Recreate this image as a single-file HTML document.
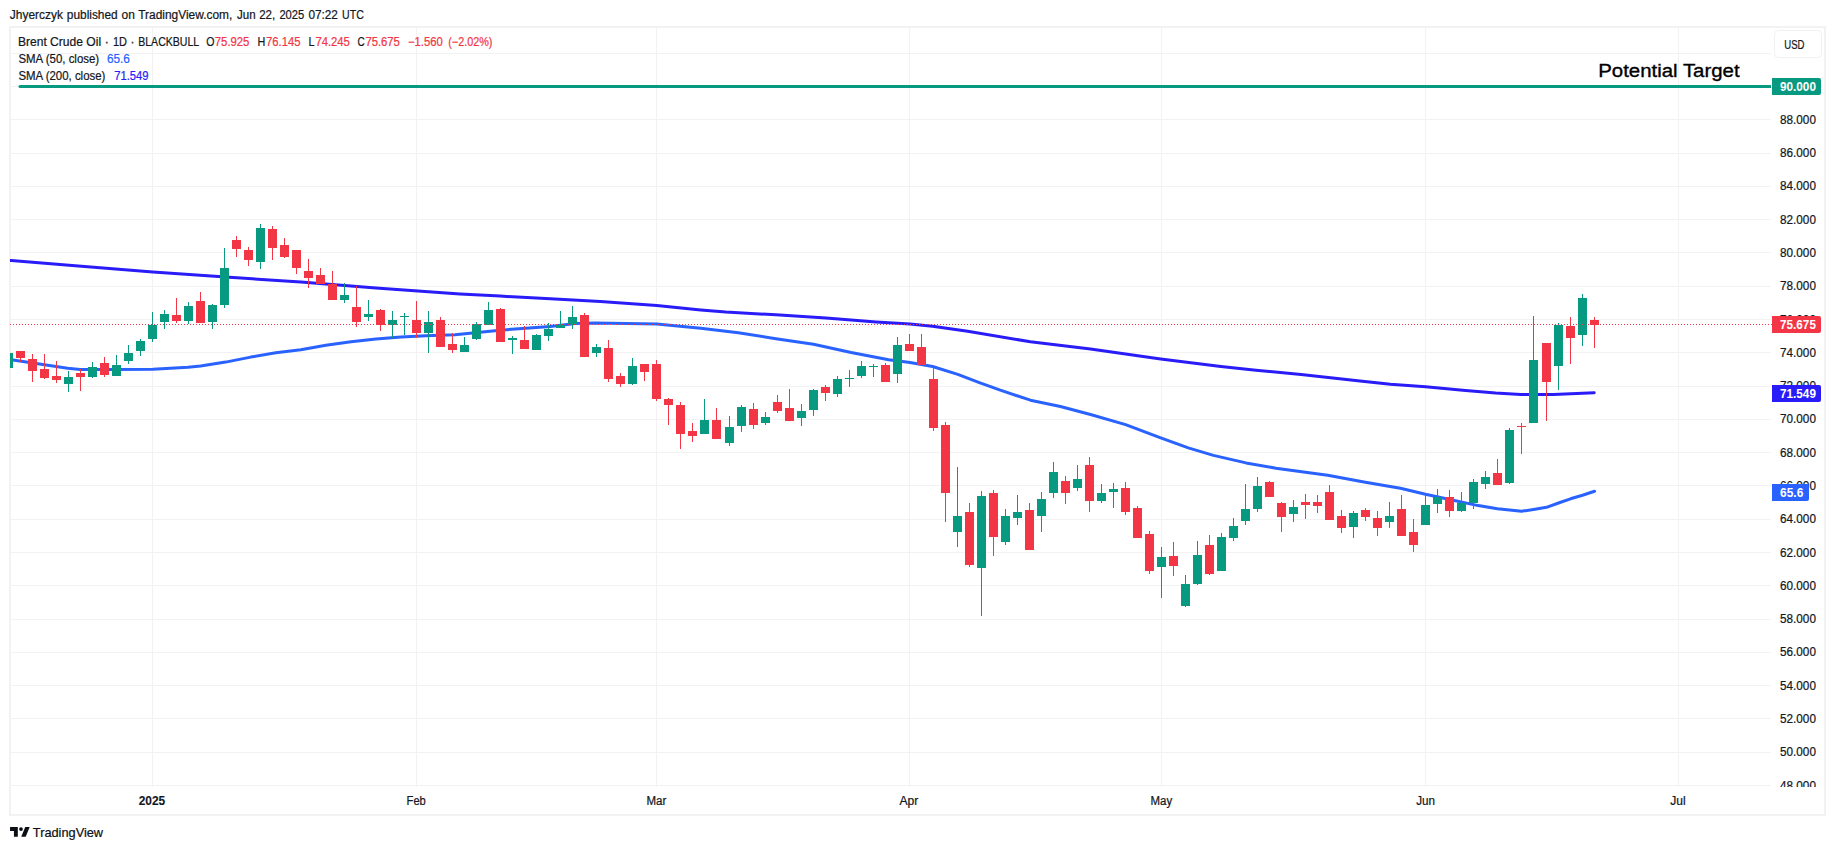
<!DOCTYPE html>
<html lang="en"><head><meta charset="utf-8"><title>Brent Crude Oil 1D BLACKBULL - TradingView</title>
<style>html,body{margin:0;padding:0;background:#fff}body{width:1835px;height:850px;overflow:hidden}svg{display:block}text{font-family:'Liberation Sans', sans-serif;font-size:12px;fill:#131722;stroke:#131722;stroke-width:.22px}.b{font-weight:bold;stroke-width:.1px}.w{fill:#fff;stroke:none;font-weight:bold}.r{fill:#f23645;stroke:#f23645}</style>
</head><body>
<svg width="1835" height="850" viewBox="0 0 1835 850">
<rect width="1835" height="850" fill="#fff"/>
<defs><clipPath id="pane"><rect x="10" y="28" width="1762" height="758"/></clipPath><clipPath id="axis"><rect x="1772" y="28" width="52" height="759"/></clipPath></defs>
<text x="9.8" y="19.0" textLength="53.2" lengthAdjust="spacingAndGlyphs">Jhyerczyk</text>
<text x="66.8" y="19.0" textLength="50.9" lengthAdjust="spacingAndGlyphs">published</text>
<text x="121.5" y="19.0" textLength="13.3" lengthAdjust="spacingAndGlyphs">on</text>
<text x="138.2" y="19.0" textLength="94.1" lengthAdjust="spacingAndGlyphs">TradingView.com,</text>
<text x="237.0" y="19.0" textLength="18.6" lengthAdjust="spacingAndGlyphs">Jun</text>
<text x="259.2" y="19.0" textLength="16.0" lengthAdjust="spacingAndGlyphs">22,</text>
<text x="279.4" y="19.0" textLength="24.8" lengthAdjust="spacingAndGlyphs">2025</text>
<text x="308.4" y="19.0" textLength="29.5" lengthAdjust="spacingAndGlyphs">07:22</text>
<text x="342.1" y="19.0" textLength="21.7" lengthAdjust="spacingAndGlyphs">UTC</text>
<rect x="10" y="27" width="1815" height="788" fill="none" stroke="#f2f2f2" stroke-width="2"/>
<g shape-rendering="crispEdges" fill="#f2f2f3">
<rect x="11" y="785" width="1760" height="1"/>
<rect x="11" y="752" width="1760" height="1"/>
<rect x="11" y="718" width="1760" height="1"/>
<rect x="11" y="685" width="1760" height="1"/>
<rect x="11" y="652" width="1760" height="1"/>
<rect x="11" y="619" width="1760" height="1"/>
<rect x="11" y="585" width="1760" height="1"/>
<rect x="11" y="552" width="1760" height="1"/>
<rect x="11" y="519" width="1760" height="1"/>
<rect x="11" y="485" width="1760" height="1"/>
<rect x="11" y="452" width="1760" height="1"/>
<rect x="11" y="419" width="1760" height="1"/>
<rect x="11" y="386" width="1760" height="1"/>
<rect x="11" y="352" width="1760" height="1"/>
<rect x="11" y="319" width="1760" height="1"/>
<rect x="11" y="286" width="1760" height="1"/>
<rect x="11" y="252" width="1760" height="1"/>
<rect x="11" y="219" width="1760" height="1"/>
<rect x="11" y="186" width="1760" height="1"/>
<rect x="11" y="153" width="1760" height="1"/>
<rect x="11" y="119" width="1760" height="1"/>
<rect x="11" y="86" width="1760" height="1"/>
<rect x="11" y="53" width="1760" height="1"/>
<rect x="152" y="28" width="1" height="759"/>
<rect x="416" y="28" width="1" height="759"/>
<rect x="656" y="28" width="1" height="759"/>
<rect x="909" y="28" width="1" height="759"/>
<rect x="1161" y="28" width="1" height="759"/>
<rect x="1425" y="28" width="1" height="759"/>
<rect x="1678" y="28" width="1" height="759"/>
</g>
<g clip-path="url(#pane)">
<path d="M20 85H1771V88H20A1.5 1.5 0 0 1 20 85Z" fill="#089981"/>
<polyline points="-4.0,259.4 11.3,260.6 75.2,265.8 152.9,272.1 225.6,277.1 300.8,282.1 376.0,288.0 460.0,294.0 500.1,296.1 550.3,298.8 600.4,301.6 656.8,305.6 700.7,310.0 725.8,312.1 775.9,314.8 826.0,318.1 876.2,321.9 910.0,324.1 932.6,326.3 967.7,331.3 1030.4,341.8 1090.5,348.9 1160.7,358.9 1220.9,366.4 1256.0,370.2 1301.1,374.4 1360.0,380.9 1390.4,384.3 1425.5,386.8 1465.6,390.4 1495.7,393.0 1520.8,394.4 1553.4,394.4 1594.2,392.7" fill="none" stroke="#2a1cf8" stroke-width="3" stroke-linejoin="round" stroke-linecap="round"/>
<polyline points="-4.0,357.5 11.3,359.8 67.7,368.3 80.2,369.4 116.0,369.6 152.9,369.2 188.0,367.3 200.6,366.0 225.6,362.1 250.7,357.1 275.8,352.8 300.8,349.8 325.9,345.3 351.0,341.8 376.0,339.0 401.1,337.0 426.2,335.8 455.0,334.8 500.1,330.2 550.3,326.4 575.3,323.5 595.4,323.1 656.8,324.1 700.7,328.2 738.3,332.7 775.9,338.7 813.5,344.3 851.1,352.5 888.7,359.8 910.0,362.6 932.6,366.5 957.8,374.4 980.0,382.9 1000.3,390.2 1030.4,400.2 1060.4,406.5 1090.5,414.5 1125.6,424.6 1160.7,437.9 1188.3,447.9 1213.4,455.4 1246.0,462.9 1276.0,468.2 1285.1,469.5 1327.7,475.3 1365.3,482.2 1400.4,488.3 1425.5,494.3 1453.1,500.2 1478.2,505.6 1497.5,508.8 1509.5,510.1 1521.5,511.3 1533.5,509.4 1546.5,507.3 1558.5,503.0 1570.5,498.8 1582.5,495.2 1594.5,491.3" fill="none" stroke="#2962ff" stroke-width="3" stroke-linejoin="round" stroke-linecap="round"/>
<g shape-rendering="crispEdges">
<rect x="8" y="353" width="1" height="15" fill="#089981"/>
<rect x="4" y="353" width="9" height="15" fill="#089981"/>
<rect x="20" y="351" width="1" height="11" fill="#f23645"/>
<rect x="16" y="351" width="9" height="7" fill="#f23645"/>
<rect x="32" y="354" width="1" height="28" fill="#f23645"/>
<rect x="28" y="359" width="9" height="12" fill="#f23645"/>
<rect x="44" y="354" width="1" height="25" fill="#f23645"/>
<rect x="40" y="369" width="9" height="9" fill="#f23645"/>
<rect x="56" y="361" width="1" height="22" fill="#f23645"/>
<rect x="52" y="376" width="9" height="4" fill="#f23645"/>
<rect x="68" y="371" width="1" height="21" fill="#089981"/>
<rect x="64" y="377" width="9" height="7" fill="#089981"/>
<rect x="80" y="369" width="1" height="22" fill="#f23645"/>
<rect x="76" y="373" width="9" height="4" fill="#f23645"/>
<rect x="92" y="362" width="1" height="16" fill="#089981"/>
<rect x="88" y="367" width="9" height="10" fill="#089981"/>
<rect x="104" y="357" width="1" height="20" fill="#f23645"/>
<rect x="100" y="363" width="9" height="12" fill="#f23645"/>
<rect x="116" y="355" width="1" height="21" fill="#089981"/>
<rect x="112" y="365" width="9" height="11" fill="#089981"/>
<rect x="128" y="345" width="1" height="19" fill="#089981"/>
<rect x="124" y="353" width="9" height="8" fill="#089981"/>
<rect x="140" y="339" width="1" height="17" fill="#089981"/>
<rect x="136" y="341" width="9" height="10" fill="#089981"/>
<rect x="152" y="312" width="1" height="30" fill="#089981"/>
<rect x="148" y="325" width="9" height="14" fill="#089981"/>
<rect x="164" y="310" width="1" height="19" fill="#089981"/>
<rect x="160" y="314" width="9" height="8" fill="#089981"/>
<rect x="176" y="298" width="1" height="25" fill="#f23645"/>
<rect x="172" y="315" width="9" height="6" fill="#f23645"/>
<rect x="188" y="302" width="1" height="22" fill="#089981"/>
<rect x="184" y="306" width="9" height="15" fill="#089981"/>
<rect x="200" y="292" width="1" height="31" fill="#f23645"/>
<rect x="196" y="301" width="9" height="22" fill="#f23645"/>
<rect x="212" y="304" width="1" height="25" fill="#089981"/>
<rect x="208" y="305" width="9" height="17" fill="#089981"/>
<rect x="224" y="248" width="1" height="60" fill="#089981"/>
<rect x="220" y="268" width="9" height="37" fill="#089981"/>
<rect x="236" y="236" width="1" height="21" fill="#f23645"/>
<rect x="232" y="240" width="9" height="9" fill="#f23645"/>
<rect x="248" y="247" width="1" height="19" fill="#f23645"/>
<rect x="244" y="250" width="9" height="10" fill="#f23645"/>
<rect x="260" y="224" width="1" height="45" fill="#089981"/>
<rect x="256" y="228" width="9" height="34" fill="#089981"/>
<rect x="272" y="226" width="1" height="34" fill="#f23645"/>
<rect x="268" y="229" width="9" height="19" fill="#f23645"/>
<rect x="284" y="238" width="1" height="20" fill="#f23645"/>
<rect x="280" y="245" width="9" height="12" fill="#f23645"/>
<rect x="296" y="250" width="1" height="24" fill="#f23645"/>
<rect x="292" y="250" width="9" height="18" fill="#f23645"/>
<rect x="308" y="259" width="1" height="29" fill="#f23645"/>
<rect x="304" y="271" width="9" height="7" fill="#f23645"/>
<rect x="320" y="268" width="1" height="16" fill="#f23645"/>
<rect x="316" y="275" width="9" height="9" fill="#f23645"/>
<rect x="332" y="271" width="1" height="29" fill="#f23645"/>
<rect x="328" y="284" width="9" height="16" fill="#f23645"/>
<rect x="344" y="283" width="1" height="20" fill="#089981"/>
<rect x="340" y="295" width="9" height="5" fill="#089981"/>
<rect x="356" y="286" width="1" height="41" fill="#f23645"/>
<rect x="352" y="307" width="9" height="15" fill="#f23645"/>
<rect x="368" y="300" width="1" height="21" fill="#089981"/>
<rect x="364" y="314" width="9" height="3" fill="#089981"/>
<rect x="380" y="309" width="1" height="22" fill="#f23645"/>
<rect x="376" y="310" width="9" height="15" fill="#f23645"/>
<rect x="392" y="311" width="1" height="27" fill="#089981"/>
<rect x="388" y="320" width="9" height="5" fill="#089981"/>
<rect x="404" y="313" width="1" height="22" fill="#089981"/>
<rect x="400" y="316" width="9" height="1" fill="#089981"/>
<rect x="416" y="301" width="1" height="37" fill="#f23645"/>
<rect x="412" y="320" width="9" height="13" fill="#f23645"/>
<rect x="428" y="311" width="1" height="42" fill="#089981"/>
<rect x="424" y="322" width="9" height="11" fill="#089981"/>
<rect x="440" y="317" width="1" height="30" fill="#f23645"/>
<rect x="436" y="320" width="9" height="27" fill="#f23645"/>
<rect x="452" y="333" width="1" height="20" fill="#f23645"/>
<rect x="448" y="344" width="9" height="6" fill="#f23645"/>
<rect x="464" y="337" width="1" height="15" fill="#089981"/>
<rect x="460" y="345" width="9" height="7" fill="#089981"/>
<rect x="476" y="322" width="1" height="18" fill="#089981"/>
<rect x="472" y="324" width="9" height="15" fill="#089981"/>
<rect x="488" y="302" width="1" height="23" fill="#089981"/>
<rect x="484" y="310" width="9" height="15" fill="#089981"/>
<rect x="500" y="308" width="1" height="34" fill="#f23645"/>
<rect x="496" y="309" width="9" height="33" fill="#f23645"/>
<rect x="512" y="336" width="1" height="18" fill="#089981"/>
<rect x="508" y="338" width="9" height="2" fill="#089981"/>
<rect x="524" y="326" width="1" height="23" fill="#f23645"/>
<rect x="520" y="340" width="9" height="9" fill="#f23645"/>
<rect x="536" y="334" width="1" height="16" fill="#089981"/>
<rect x="532" y="335" width="9" height="15" fill="#089981"/>
<rect x="548" y="323" width="1" height="18" fill="#089981"/>
<rect x="544" y="329" width="9" height="7" fill="#089981"/>
<rect x="560" y="311" width="1" height="17" fill="#089981"/>
<rect x="556" y="325" width="9" height="3" fill="#089981"/>
<rect x="572" y="306" width="1" height="23" fill="#089981"/>
<rect x="568" y="317" width="9" height="7" fill="#089981"/>
<rect x="584" y="313" width="1" height="44" fill="#f23645"/>
<rect x="580" y="315" width="9" height="42" fill="#f23645"/>
<rect x="596" y="344" width="1" height="13" fill="#089981"/>
<rect x="592" y="347" width="9" height="6" fill="#089981"/>
<rect x="608" y="340" width="1" height="42" fill="#f23645"/>
<rect x="604" y="348" width="9" height="31" fill="#f23645"/>
<rect x="620" y="373" width="1" height="14" fill="#f23645"/>
<rect x="616" y="376" width="9" height="8" fill="#f23645"/>
<rect x="632" y="358" width="1" height="27" fill="#089981"/>
<rect x="628" y="366" width="9" height="18" fill="#089981"/>
<rect x="644" y="364" width="1" height="17" fill="#f23645"/>
<rect x="640" y="364" width="9" height="8" fill="#f23645"/>
<rect x="656" y="360" width="1" height="41" fill="#f23645"/>
<rect x="652" y="364" width="9" height="35" fill="#f23645"/>
<rect x="668" y="398" width="1" height="27" fill="#f23645"/>
<rect x="664" y="399" width="9" height="6" fill="#f23645"/>
<rect x="680" y="402" width="1" height="47" fill="#f23645"/>
<rect x="676" y="405" width="9" height="29" fill="#f23645"/>
<rect x="692" y="423" width="1" height="19" fill="#f23645"/>
<rect x="688" y="431" width="9" height="5" fill="#f23645"/>
<rect x="704" y="399" width="1" height="35" fill="#089981"/>
<rect x="700" y="420" width="9" height="14" fill="#089981"/>
<rect x="716" y="408" width="1" height="31" fill="#f23645"/>
<rect x="712" y="420" width="9" height="19" fill="#f23645"/>
<rect x="729" y="416" width="1" height="30" fill="#089981"/>
<rect x="725" y="427" width="9" height="16" fill="#089981"/>
<rect x="741" y="405" width="1" height="27" fill="#089981"/>
<rect x="737" y="407" width="9" height="19" fill="#089981"/>
<rect x="753" y="403" width="1" height="26" fill="#f23645"/>
<rect x="749" y="409" width="9" height="16" fill="#f23645"/>
<rect x="765" y="412" width="1" height="13" fill="#089981"/>
<rect x="761" y="417" width="9" height="6" fill="#089981"/>
<rect x="777" y="395" width="1" height="18" fill="#f23645"/>
<rect x="773" y="402" width="9" height="9" fill="#f23645"/>
<rect x="789" y="389" width="1" height="32" fill="#f23645"/>
<rect x="785" y="408" width="9" height="13" fill="#f23645"/>
<rect x="801" y="404" width="1" height="22" fill="#089981"/>
<rect x="797" y="411" width="9" height="7" fill="#089981"/>
<rect x="813" y="389" width="1" height="27" fill="#089981"/>
<rect x="809" y="390" width="9" height="20" fill="#089981"/>
<rect x="825" y="385" width="1" height="16" fill="#f23645"/>
<rect x="821" y="387" width="9" height="6" fill="#f23645"/>
<rect x="837" y="376" width="1" height="21" fill="#089981"/>
<rect x="833" y="379" width="9" height="15" fill="#089981"/>
<rect x="849" y="370" width="1" height="17" fill="#089981"/>
<rect x="845" y="378" width="9" height="1" fill="#089981"/>
<rect x="861" y="361" width="1" height="17" fill="#089981"/>
<rect x="857" y="366" width="9" height="10" fill="#089981"/>
<rect x="873" y="364" width="1" height="13" fill="#089981"/>
<rect x="869" y="366" width="9" height="1" fill="#089981"/>
<rect x="885" y="363" width="1" height="19" fill="#f23645"/>
<rect x="881" y="365" width="9" height="17" fill="#f23645"/>
<rect x="897" y="337" width="1" height="46" fill="#089981"/>
<rect x="893" y="345" width="9" height="29" fill="#089981"/>
<rect x="909" y="334" width="1" height="17" fill="#f23645"/>
<rect x="905" y="344" width="9" height="7" fill="#f23645"/>
<rect x="921" y="334" width="1" height="31" fill="#f23645"/>
<rect x="917" y="347" width="9" height="18" fill="#f23645"/>
<rect x="933" y="368" width="1" height="63" fill="#f23645"/>
<rect x="929" y="379" width="9" height="49" fill="#f23645"/>
<rect x="945" y="422" width="1" height="100" fill="#f23645"/>
<rect x="941" y="425" width="9" height="68" fill="#f23645"/>
<rect x="957" y="467" width="1" height="80" fill="#089981"/>
<rect x="953" y="516" width="9" height="16" fill="#089981"/>
<rect x="969" y="503" width="1" height="64" fill="#f23645"/>
<rect x="965" y="512" width="9" height="53" fill="#f23645"/>
<rect x="981" y="491" width="1" height="125" fill="#089981"/>
<rect x="977" y="496" width="9" height="72" fill="#089981"/>
<rect x="993" y="490" width="1" height="66" fill="#f23645"/>
<rect x="989" y="493" width="9" height="44" fill="#f23645"/>
<rect x="1005" y="509" width="1" height="36" fill="#089981"/>
<rect x="1001" y="516" width="9" height="26" fill="#089981"/>
<rect x="1017" y="495" width="1" height="30" fill="#089981"/>
<rect x="1013" y="512" width="9" height="6" fill="#089981"/>
<rect x="1029" y="503" width="1" height="47" fill="#f23645"/>
<rect x="1025" y="510" width="9" height="40" fill="#f23645"/>
<rect x="1041" y="492" width="1" height="40" fill="#089981"/>
<rect x="1037" y="499" width="9" height="17" fill="#089981"/>
<rect x="1053" y="462" width="1" height="36" fill="#089981"/>
<rect x="1049" y="472" width="9" height="21" fill="#089981"/>
<rect x="1065" y="476" width="1" height="28" fill="#f23645"/>
<rect x="1061" y="481" width="9" height="12" fill="#f23645"/>
<rect x="1077" y="465" width="1" height="26" fill="#089981"/>
<rect x="1073" y="479" width="9" height="9" fill="#089981"/>
<rect x="1089" y="457" width="1" height="55" fill="#f23645"/>
<rect x="1085" y="465" width="9" height="36" fill="#f23645"/>
<rect x="1101" y="484" width="1" height="19" fill="#089981"/>
<rect x="1097" y="493" width="9" height="8" fill="#089981"/>
<rect x="1113" y="483" width="1" height="25" fill="#089981"/>
<rect x="1109" y="489" width="9" height="3" fill="#089981"/>
<rect x="1125" y="482" width="1" height="33" fill="#f23645"/>
<rect x="1121" y="488" width="9" height="24" fill="#f23645"/>
<rect x="1137" y="506" width="1" height="32" fill="#f23645"/>
<rect x="1133" y="508" width="9" height="30" fill="#f23645"/>
<rect x="1149" y="531" width="1" height="43" fill="#f23645"/>
<rect x="1145" y="534" width="9" height="37" fill="#f23645"/>
<rect x="1161" y="547" width="1" height="51" fill="#089981"/>
<rect x="1157" y="557" width="9" height="10" fill="#089981"/>
<rect x="1173" y="542" width="1" height="34" fill="#f23645"/>
<rect x="1169" y="556" width="9" height="10" fill="#f23645"/>
<rect x="1185" y="575" width="1" height="32" fill="#089981"/>
<rect x="1181" y="584" width="9" height="22" fill="#089981"/>
<rect x="1197" y="541" width="1" height="44" fill="#089981"/>
<rect x="1193" y="555" width="9" height="29" fill="#089981"/>
<rect x="1209" y="535" width="1" height="40" fill="#f23645"/>
<rect x="1205" y="545" width="9" height="29" fill="#f23645"/>
<rect x="1221" y="533" width="1" height="38" fill="#089981"/>
<rect x="1217" y="537" width="9" height="34" fill="#089981"/>
<rect x="1233" y="518" width="1" height="23" fill="#089981"/>
<rect x="1229" y="526" width="9" height="12" fill="#089981"/>
<rect x="1245" y="484" width="1" height="41" fill="#089981"/>
<rect x="1241" y="509" width="9" height="12" fill="#089981"/>
<rect x="1257" y="477" width="1" height="35" fill="#089981"/>
<rect x="1253" y="486" width="9" height="23" fill="#089981"/>
<rect x="1269" y="481" width="1" height="16" fill="#f23645"/>
<rect x="1265" y="482" width="9" height="15" fill="#f23645"/>
<rect x="1281" y="502" width="1" height="30" fill="#f23645"/>
<rect x="1277" y="503" width="9" height="14" fill="#f23645"/>
<rect x="1293" y="500" width="1" height="22" fill="#089981"/>
<rect x="1289" y="507" width="9" height="7" fill="#089981"/>
<rect x="1305" y="494" width="1" height="25" fill="#f23645"/>
<rect x="1301" y="502" width="9" height="3" fill="#f23645"/>
<rect x="1317" y="495" width="1" height="18" fill="#f23645"/>
<rect x="1313" y="502" width="9" height="4" fill="#f23645"/>
<rect x="1329" y="485" width="1" height="35" fill="#f23645"/>
<rect x="1325" y="492" width="9" height="28" fill="#f23645"/>
<rect x="1341" y="510" width="1" height="23" fill="#f23645"/>
<rect x="1337" y="516" width="9" height="12" fill="#f23645"/>
<rect x="1353" y="511" width="1" height="27" fill="#089981"/>
<rect x="1349" y="513" width="9" height="14" fill="#089981"/>
<rect x="1365" y="508" width="1" height="13" fill="#f23645"/>
<rect x="1361" y="510" width="9" height="7" fill="#f23645"/>
<rect x="1377" y="511" width="1" height="25" fill="#f23645"/>
<rect x="1373" y="518" width="9" height="10" fill="#f23645"/>
<rect x="1389" y="502" width="1" height="26" fill="#089981"/>
<rect x="1385" y="516" width="9" height="6" fill="#089981"/>
<rect x="1401" y="495" width="1" height="41" fill="#f23645"/>
<rect x="1397" y="509" width="9" height="27" fill="#f23645"/>
<rect x="1413" y="519" width="1" height="33" fill="#f23645"/>
<rect x="1409" y="532" width="9" height="13" fill="#f23645"/>
<rect x="1425" y="493" width="1" height="32" fill="#089981"/>
<rect x="1421" y="505" width="9" height="20" fill="#089981"/>
<rect x="1437" y="489" width="1" height="24" fill="#089981"/>
<rect x="1433" y="497" width="9" height="7" fill="#089981"/>
<rect x="1449" y="490" width="1" height="27" fill="#f23645"/>
<rect x="1445" y="497" width="9" height="14" fill="#f23645"/>
<rect x="1461" y="492" width="1" height="20" fill="#089981"/>
<rect x="1457" y="503" width="9" height="8" fill="#089981"/>
<rect x="1473" y="479" width="1" height="30" fill="#089981"/>
<rect x="1469" y="482" width="9" height="21" fill="#089981"/>
<rect x="1485" y="471" width="1" height="18" fill="#089981"/>
<rect x="1481" y="477" width="9" height="7" fill="#089981"/>
<rect x="1497" y="459" width="1" height="26" fill="#f23645"/>
<rect x="1493" y="473" width="9" height="12" fill="#f23645"/>
<rect x="1509" y="428" width="1" height="56" fill="#089981"/>
<rect x="1505" y="430" width="9" height="53" fill="#089981"/>
<rect x="1521" y="423" width="1" height="31" fill="#f23645"/>
<rect x="1517" y="426" width="9" height="1" fill="#f23645"/>
<rect x="1533" y="316" width="1" height="107" fill="#089981"/>
<rect x="1529" y="360" width="9" height="63" fill="#089981"/>
<rect x="1546" y="343" width="1" height="78" fill="#f23645"/>
<rect x="1542" y="343" width="9" height="39" fill="#f23645"/>
<rect x="1558" y="323" width="1" height="67" fill="#089981"/>
<rect x="1554" y="325" width="9" height="41" fill="#089981"/>
<rect x="1570" y="317" width="1" height="47" fill="#f23645"/>
<rect x="1566" y="326" width="9" height="12" fill="#f23645"/>
<rect x="1582" y="294" width="1" height="52" fill="#089981"/>
<rect x="1578" y="298" width="9" height="37" fill="#089981"/>
<rect x="1594" y="317" width="1" height="31" fill="#f23645"/>
<rect x="1590" y="320" width="9" height="5" fill="#f23645"/>
</g>
<line x1="10" y1="324.5" x2="1772" y2="324.5" stroke="#f23645" stroke-width="1" stroke-dasharray="1 2" shape-rendering="crispEdges"/>
</g>
<text x="1598.2" y="76.7" style="font-size:19.2px;fill:#000;stroke:#000;stroke-width:0.35px" textLength="141.4" lengthAdjust="spacingAndGlyphs">Potential Target</text>
<text x="17.9" y="46.0" textLength="83.2" lengthAdjust="spacingAndGlyphs">Brent Crude Oil</text>
<text x="106.7" y="46" text-anchor="middle">·</text>
<text x="113.0" y="46.0" textLength="14.0" lengthAdjust="spacingAndGlyphs">1D</text>
<text x="132.6" y="46" text-anchor="middle">·</text>
<text x="138.2" y="46.0" textLength="61.0" lengthAdjust="spacingAndGlyphs">BLACKBULL</text>
<text x="206.2" y="46.0" textLength="8.2" lengthAdjust="spacingAndGlyphs">O</text>
<text x="214.8" y="46.0" textLength="34.6" lengthAdjust="spacingAndGlyphs" class="r">75.925</text>
<text x="257.5" y="46.0" textLength="7.8" lengthAdjust="spacingAndGlyphs">H</text>
<text x="266.1" y="46.0" textLength="34.3" lengthAdjust="spacingAndGlyphs" class="r">76.145</text>
<text x="308.6" y="46.0" textLength="6.0" lengthAdjust="spacingAndGlyphs">L</text>
<text x="315.4" y="46.0" textLength="34.5" lengthAdjust="spacingAndGlyphs" class="r">74.245</text>
<text x="357.6" y="46.0" textLength="7.2" lengthAdjust="spacingAndGlyphs">C</text>
<text x="365.4" y="46.0" textLength="34.5" lengthAdjust="spacingAndGlyphs" class="r">75.675</text>
<text x="408.0" y="46.0" textLength="34.8" lengthAdjust="spacingAndGlyphs" class="r">−1.560</text>
<text x="448.2" y="46.0" textLength="44.3" lengthAdjust="spacingAndGlyphs" class="r">(−2.02%)</text>
<text x="18.4" y="63.1" textLength="80.8" lengthAdjust="spacingAndGlyphs">SMA (50, close)</text>
<text x="107.0" y="63.1" textLength="22.9" lengthAdjust="spacingAndGlyphs" style="fill:#2962ff;stroke:#2962ff">65.6</text>
<text x="18.4" y="80.0" textLength="87.0" lengthAdjust="spacingAndGlyphs">SMA (200, close)</text>
<text x="114.2" y="80.0" textLength="34.4" lengthAdjust="spacingAndGlyphs" style="fill:#2a1cf8;stroke:#2a1cf8">71.549</text>
<g clip-path="url(#axis)">
<text x="1780.1" y="790.0" textLength="35.8" lengthAdjust="spacingAndGlyphs">48.000</text>
<text x="1780.1" y="756.0" textLength="35.8" lengthAdjust="spacingAndGlyphs">50.000</text>
<text x="1780.1" y="723.0" textLength="35.8" lengthAdjust="spacingAndGlyphs">52.000</text>
<text x="1780.1" y="690.0" textLength="35.8" lengthAdjust="spacingAndGlyphs">54.000</text>
<text x="1780.1" y="656.0" textLength="35.8" lengthAdjust="spacingAndGlyphs">56.000</text>
<text x="1780.1" y="623.0" textLength="35.8" lengthAdjust="spacingAndGlyphs">58.000</text>
<text x="1780.1" y="590.0" textLength="35.8" lengthAdjust="spacingAndGlyphs">60.000</text>
<text x="1780.1" y="557.0" textLength="35.8" lengthAdjust="spacingAndGlyphs">62.000</text>
<text x="1780.1" y="523.0" textLength="35.8" lengthAdjust="spacingAndGlyphs">64.000</text>
<text x="1780.1" y="490.0" textLength="35.8" lengthAdjust="spacingAndGlyphs">66.000</text>
<text x="1780.1" y="457.0" textLength="35.8" lengthAdjust="spacingAndGlyphs">68.000</text>
<text x="1780.1" y="423.0" textLength="35.8" lengthAdjust="spacingAndGlyphs">70.000</text>
<text x="1780.1" y="390.0" textLength="35.8" lengthAdjust="spacingAndGlyphs">72.000</text>
<text x="1780.1" y="357.0" textLength="35.8" lengthAdjust="spacingAndGlyphs">74.000</text>
<text x="1780.1" y="324.0" textLength="35.8" lengthAdjust="spacingAndGlyphs">76.000</text>
<text x="1780.1" y="290.0" textLength="35.8" lengthAdjust="spacingAndGlyphs">78.000</text>
<text x="1780.1" y="257.0" textLength="35.8" lengthAdjust="spacingAndGlyphs">80.000</text>
<text x="1780.1" y="224.0" textLength="35.8" lengthAdjust="spacingAndGlyphs">82.000</text>
<text x="1780.1" y="190.0" textLength="35.8" lengthAdjust="spacingAndGlyphs">84.000</text>
<text x="1780.1" y="157.0" textLength="35.8" lengthAdjust="spacingAndGlyphs">86.000</text>
<text x="1780.1" y="124.0" textLength="35.8" lengthAdjust="spacingAndGlyphs">88.000</text>
</g>
<rect x="1772" y="78" width="49" height="17" rx="2" fill="#089981"/>
<rect x="1772" y="78" width="3" height="17" fill="#089981"/>
<text x="1780.1" y="90.5" textLength="35.8" lengthAdjust="spacingAndGlyphs" class="w">90.000</text>
<rect x="1772" y="316" width="49" height="17" rx="2" fill="#f23645"/>
<rect x="1772" y="316" width="3" height="17" fill="#f23645"/>
<text x="1780.1" y="328.5" textLength="35.8" lengthAdjust="spacingAndGlyphs" class="w">75.675</text>
<rect x="1772" y="385" width="49" height="17" rx="2" fill="#2a1cf8"/>
<rect x="1772" y="385" width="3" height="17" fill="#2a1cf8"/>
<text x="1780.1" y="397.5" textLength="35.8" lengthAdjust="spacingAndGlyphs" class="w">71.549</text>
<rect x="1772" y="484" width="37" height="17" rx="2" fill="#2962ff"/>
<rect x="1772" y="484" width="3" height="17" fill="#2962ff"/>
<text x="1780.1" y="496.5" textLength="23.2" lengthAdjust="spacingAndGlyphs" class="w">65.6</text>
<rect x="1774.5" y="30.5" width="47" height="27" rx="4" fill="#fff" stroke="#eff0f2" stroke-width="1"/>
<text x="1784.3" y="48.9" textLength="20.2" lengthAdjust="spacingAndGlyphs">USD</text>
<text x="152.0" y="805.2" text-anchor="middle" textLength="26.5" lengthAdjust="spacingAndGlyphs" class="b">2025</text>
<text x="416.2" y="805.2" text-anchor="middle" textLength="19.2" lengthAdjust="spacingAndGlyphs">Feb</text>
<text x="656.4" y="805.2" text-anchor="middle" textLength="19.9" lengthAdjust="spacingAndGlyphs">Mar</text>
<text x="908.8" y="805.2" text-anchor="middle" textLength="18.8" lengthAdjust="spacingAndGlyphs">Apr</text>
<text x="1161.3" y="805.2" text-anchor="middle" textLength="21.6" lengthAdjust="spacingAndGlyphs">May</text>
<text x="1425.6" y="805.2" text-anchor="middle" textLength="18.8" lengthAdjust="spacingAndGlyphs">Jun</text>
<text x="1678.0" y="805.2" text-anchor="middle" textLength="15.4" lengthAdjust="spacingAndGlyphs">Jul</text>
<g fill="#0c0e15">
<path d="M10.06 827.06H17.82V836.82H13.94V830.94H10.06Z"/>
<circle cx="21" cy="829.06" r="1.9"/>
<path d="M25.24 827.06H29.7L25.7 836.82H21.24Z"/>
</g>
<text x="32.8" y="836.9" style="font-size:13px;fill:#0c0e15" textLength="70.3" lengthAdjust="spacingAndGlyphs">TradingView</text>
</svg></body></html>
